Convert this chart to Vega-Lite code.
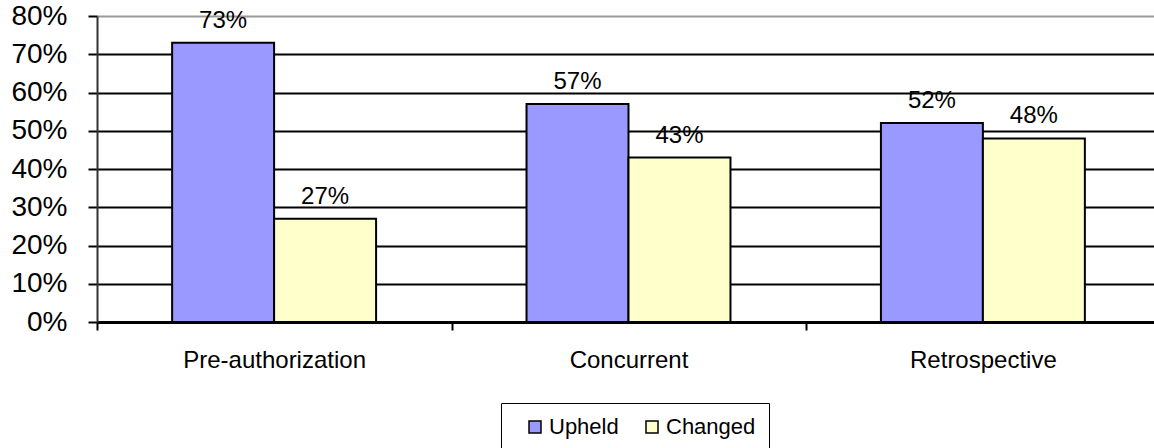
{
  "$schema": "https://vega.github.io/schema/vega-lite/v6.json",
  "autosize": {"type": "none"},
  "padding": {"left": 97, "top": 16, "right": 0, "bottom": 126},
  "width": 1057,
  "height": 306,
  "background": "white",
  "config": {
    "font": "Liberation Sans",
    "view": {"stroke": null}
  },
  "data": {
    "values": [
      {"category": "Pre-authorization", "series": "Upheld", "value": 0.73},
      {"category": "Pre-authorization", "series": "Changed", "value": 0.27},
      {"category": "Concurrent", "series": "Upheld", "value": 0.57},
      {"category": "Concurrent", "series": "Changed", "value": 0.43},
      {"category": "Retrospective", "series": "Upheld", "value": 0.52},
      {"category": "Retrospective", "series": "Changed", "value": 0.48}
    ]
  },
  "encoding": {
    "x": {
      "field": "category",
      "type": "nominal",
      "sort": ["Pre-authorization", "Concurrent", "Retrospective"],
      "scale": {"range": [0, 1063], "paddingInner": 0.4245, "paddingOuter": 0.212},
      "axis": {
        "title": null,
        "labelAngle": 0,
        "labelFontSize": 24,
        "labelColor": "#000",
        "labelPadding": 18,
        "labelLimit": 0,
        "tickOffset": -177,
        "labelOffset": 177,
        "tickSize": 8,
        "tickColor": "#000",
        "tickWidth": 2,
        "domainColor": "#000",
        "domainWidth": 3,
        "grid": false
      }
    },
    "xOffset": {"field": "series", "type": "nominal", "sort": ["Upheld", "Changed"]},
    "y": {
      "field": "value",
      "type": "quantitative",
      "scale": {"domain": [0, 0.8], "nice": false},
      "axis": {
        "title": null,
        "format": ".0%",
        "values": [0, 0.1, 0.2, 0.3, 0.4, 0.5, 0.6, 0.7, 0.8],
        "labelFontSize": 28,
        "labelColor": "#000",
        "labelPadding": 21,
        "tickSize": 9,
        "tickColor": "#000",
        "tickWidth": 2,
        "domainColor": "#333",
        "domainWidth": 2,
        "grid": true,
        "gridColor": {"condition": {"test": "datum.value >= 0.8", "value": "#999"}, "value": "#000"},
        "gridWidth": 2
      }
    }
  },
  "layer": [
    {
      "mark": {"type": "bar", "stroke": "#000", "strokeWidth": 2},
      "encoding": {
        "color": {
          "field": "series",
          "type": "nominal",
          "sort": ["Upheld", "Changed"],
          "scale": {"domain": ["Upheld", "Changed"], "range": ["#9999FF", "#FFFFCC"]},
          "legend": {
            "title": null,
            "orient": "none",
            "legendX": 404,
            "legendY": 387,
            "direction": "horizontal",
            "strokeColor": "#000",
            "padding": 13,
            "symbolOffset": 10,
            "symbolType": "square",
            "symbolSize": 144,
            "symbolStrokeColor": "#000",
            "symbolStrokeWidth": 1.5,
            "symbolOpacity": 1,
            "labelFontSize": 22,
            "labelColor": "#000",
            "labelOffset": 3,
            "columnPadding": 12
          }
        }
      }
    },
    {
      "mark": {"type": "text", "fontSize": 24, "color": "#000", "baseline": "alphabetic", "dy": -15},
      "encoding": {
        "text": {"field": "value", "type": "quantitative", "format": ".0%"}
      }
    }
  ]
}
